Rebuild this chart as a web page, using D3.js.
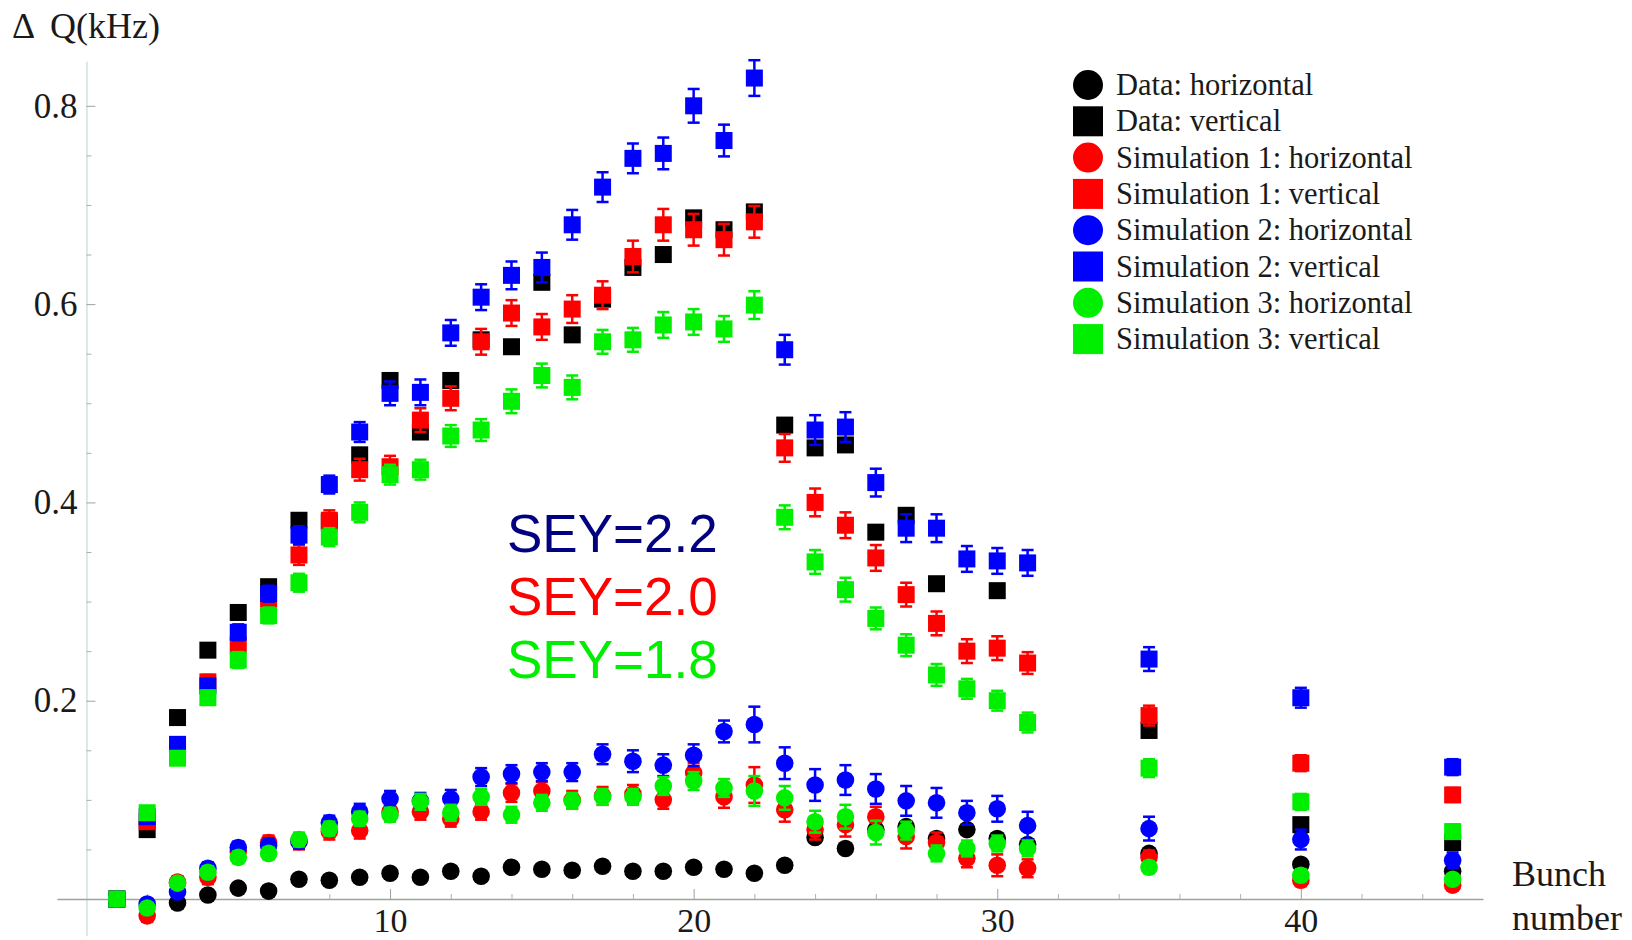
<!DOCTYPE html>
<html>
<head>
<meta charset="utf-8">
<script src="https://cdn.jsdelivr.net/npm/d3@7"></script>
<style>
  html, body { margin: 0; padding: 0; background: #fff; }
  svg { display: block; }
  .serif { font-family: "Liberation Serif", "Times New Roman", serif; fill: #1a1a1a; }
  .sans { font-family: "Liberation Sans", Arial, sans-serif; }
</style>
</head>
<body>
<div id="chart"></div>
<script>
// Bunch numbers on the x axis
const bunches = [1, 2, 3, 4, 5, 6, 7, 8, 9, 10, 11, 12, 13, 14, 15, 16, 17, 18, 19, 20,
  21, 22, 23, 24, 25, 26, 27, 28, 29, 30, 31, 35, 40, 45]

// Tune shift (kHz), one value per bunch, null where no point is visible
const dataHorizontal = [0, null, -0.004, 0.004, 0.011, 0.008, 0.020, 0.019, 0.022, 0.026,
  0.022, 0.028, 0.023, 0.032, 0.030, 0.029, 0.033, 0.028, 0.028, 0.032,
  0.030, 0.026, 0.034, 0.062, 0.051, 0.070, 0.073, 0.061, 0.070, 0.061, 0.055, 0.046, 0.035, 0.028]
const dataVertical = [0, 0.070, 0.183, 0.251, 0.289, 0.315, 0.382, 0.380, 0.448, 0.523,
  0.471, 0.523, 0.564, 0.557, 0.622, 0.569, 0.605, 0.637, 0.650, 0.687,
  0.675, 0.693, 0.478, 0.455, 0.458, 0.370, 0.387, 0.318, null, 0.311, null, 0.170, 0.075, 0.057]

const sim1Horizontal = [0, -0.017, 0.017, 0.022, 0.048, 0.057, 0.058, 0.068, 0.069, 0.088,
  0.088, 0.081, 0.088, 0.107, 0.109, 0.100, 0.104, 0.106, 0.100, 0.127,
  0.103, 0.115, 0.090, 0.070, 0.075, 0.083, 0.063, 0.057, 0.041, 0.034, 0.031, 0.042, 0.019, 0.014]
const sim1Vertical = [0, 0.078, 0.150, 0.219, 0.256, 0.298, 0.347, 0.382, 0.433, 0.436,
  0.483, 0.505, 0.562, 0.591, 0.577, 0.595, 0.609, 0.648, 0.680, 0.675,
  0.665, 0.683, 0.455, 0.400, 0.377, 0.344, 0.307, 0.278, 0.250, 0.253, 0.238, 0.185, 0.137, 0.105]

const sim2Horizontal = [0, -0.005, 0.007, 0.031, 0.052, 0.054, 0.058, 0.077, 0.088, 0.101,
  0.099, 0.101, 0.123, 0.126, 0.128, 0.128, 0.146, 0.139, 0.135, 0.145,
  0.169, 0.176, 0.137, 0.115, 0.120, 0.111, 0.099, 0.097, 0.087, 0.091, 0.074, 0.071, 0.060, 0.039]
const sim2Vertical = [0, 0.083, 0.156, 0.215, 0.269, 0.308, 0.367, 0.418, 0.471, 0.510,
  0.511, 0.571, 0.607, 0.629, 0.637, 0.680, 0.718, 0.747, 0.752, 0.800,
  0.765, 0.828, 0.554, 0.473, 0.476, 0.420, 0.374, 0.374, 0.343, 0.341, 0.339, 0.242, 0.203, 0.133]

const sim3Horizontal = [0, -0.009, 0.016, 0.027, 0.042, 0.046, 0.060, 0.071, 0.081, 0.085,
  0.098, 0.087, 0.103, 0.085, 0.097, 0.099, 0.103, 0.103, 0.114, 0.119,
  0.112, 0.109, 0.102, 0.078, 0.083, 0.067, 0.069, 0.046, 0.051, 0.056, 0.051, 0.032, 0.024, 0.020]
const sim3Vertical = [0, 0.087, 0.142, 0.203, 0.241, 0.286, 0.319, 0.365, 0.390, 0.428,
  0.433, 0.467, 0.473, 0.502, 0.528, 0.516, 0.562, 0.564, 0.579, 0.582,
  0.575, 0.599, 0.385, 0.340, 0.312, 0.283, 0.256, 0.226, 0.212, 0.200, 0.178, 0.132, 0.098, 0.068]

// Error bar half-widths (kHz) for the simulations
const sim1HorizontalErr = [0, 0.006, 0.006, 0.007, 0.007, 0.007, 0.008, 0.008, 0.008, 0.008,
  0.008, 0.008, 0.008, 0.009, 0.009, 0.009, 0.009, 0.009, 0.009, 0.010,
  0.011, 0.018, 0.012, 0.010, 0.012, 0.010, 0.012, 0.010, 0.009, 0.011, 0.009, 0.007, 0.006, 0.005]
const sim1VerticalErr = [0, 0.005, 0.006, 0.007, 0.008, 0.009, 0.010, 0.010, 0.011, 0.011,
  0.012, 0.012, 0.013, 0.013, 0.013, 0.014, 0.014, 0.016, 0.016, 0.016,
  0.016, 0.016, 0.014, 0.014, 0.013, 0.013, 0.012, 0.012, 0.012, 0.012, 0.011, 0.010, 0.008, 0.007]
const sim2HorizontalErr = [0, 0.005, 0.005, 0.006, 0.006, 0.007, 0.007, 0.007, 0.008, 0.008,
  0.008, 0.009, 0.009, 0.009, 0.009, 0.009, 0.010, 0.011, 0.011, 0.011,
  0.011, 0.018, 0.016, 0.016, 0.015, 0.015, 0.015, 0.015, 0.012, 0.013, 0.014, 0.012, 0.010, 0.008]
const sim2VerticalErr = [0, 0.006, 0.006, 0.007, 0.008, 0.008, 0.009, 0.009, 0.010, 0.012,
  0.013, 0.013, 0.013, 0.014, 0.015, 0.015, 0.015, 0.015, 0.016, 0.017,
  0.016, 0.018, 0.015, 0.015, 0.015, 0.014, 0.014, 0.014, 0.013, 0.013, 0.013, 0.012, 0.010, 0.008]
const sim3HorizontalErr = [0, 0.005, 0.005, 0.006, 0.006, 0.006, 0.007, 0.007, 0.007, 0.007,
  0.008, 0.008, 0.008, 0.008, 0.008, 0.008, 0.008, 0.008, 0.009, 0.009,
  0.009, 0.015, 0.012, 0.011, 0.012, 0.012, 0.009, 0.008, 0.008, 0.008, 0.008, 0.006, 0.006, 0.005]
const sim3VerticalErr = [0, 0.005, 0.006, 0.007, 0.008, 0.008, 0.009, 0.009, 0.010, 0.010,
  0.010, 0.011, 0.011, 0.012, 0.012, 0.012, 0.012, 0.012, 0.013, 0.013,
  0.013, 0.014, 0.012, 0.012, 0.012, 0.011, 0.011, 0.011, 0.010, 0.010, 0.010, 0.009, 0.008, 0.007]

const yMajorTicks = [0.2, 0.4, 0.6, 0.8]
const yMinorTicks = [0.05, 0.1, 0.15, 0.25, 0.3, 0.35, 0.45, 0.5, 0.55, 0.65, 0.7, 0.75]
const xMajorTicks = [10, 20, 30, 40]
const xMinorTicks = [2, 4, 6, 8, 12, 14, 16, 18, 22, 24, 26, 28, 32, 34, 36, 38, 42, 44]

const seyLabels = ["SEY=2.2", "SEY=2.0", "SEY=1.8"]
const seyColors = ["#000080", "#ff0000", "#00ee00"]

const series = [
  { name: "Data: horizontal", values: dataHorizontal, err: null, color: "#000000", shape: "circle" },
  { name: "Data: vertical", values: dataVertical, err: null, color: "#000000", shape: "square" },
  { name: "Simulation 1: horizontal", values: sim1Horizontal, err: sim1HorizontalErr, color: "#ff0000", shape: "circle" },
  { name: "Simulation 1: vertical", values: sim1Vertical, err: sim1VerticalErr, color: "#ff0000", shape: "square" },
  { name: "Simulation 2: horizontal", values: sim2Horizontal, err: sim2HorizontalErr, color: "#0000ff", shape: "circle" },
  { name: "Simulation 2: vertical", values: sim2Vertical, err: sim2VerticalErr, color: "#0000ff", shape: "square" },
  { name: "Simulation 3: horizontal", values: sim3Horizontal, err: sim3HorizontalErr, color: "#00ee00", shape: "circle" },
  { name: "Simulation 3: vertical", values: sim3Vertical, err: sim3VerticalErr, color: "#00ee00", shape: "square" },
]

const width = 1632
const height = 940
const markerSize = 17
const capHalf = 6

const x = d3.scaleLinear().domain([-0.97, 46]).range([57, 1483])
const y = d3.scaleLinear().domain([-0.037, 0.845]).range([935.7, 61.2])

const svg = d3.select("#chart")
  .append("svg")
  .attr("width", width)
  .attr("height", height)
  .attr("viewBox", [0, 0, width, height])

// Axes
const yAxis = svg.append("g")
  .attr("transform", `translate(${x(0)},0)`)
  .call(d3.axisLeft(y).tickValues(yMajorTicks).tickSize(-9).tickSizeOuter(0).tickPadding(9)
    .tickFormat(d3.format(".1f")))
yAxis.select(".domain").attr("stroke", "#c9d9cf").attr("stroke-width", 1.2)
yAxis.selectAll(".tick line").attr("stroke", "#9aa59c")
yAxis.selectAll(".tick text").attr("class", "serif").attr("font-size", 35)

svg.append("g")
  .attr("transform", `translate(${x(0)},0)`)
  .call(d3.axisLeft(y).tickValues(yMinorTicks).tickSize(-5).tickFormat(""))
  .call(g => g.select(".domain").remove())
  .selectAll(".tick line").attr("stroke", "#a9b3ab")

const xAxis = svg.append("g")
  .attr("transform", `translate(0,${y(0)})`)
  .call(d3.axisBottom(x).tickValues(xMajorTicks).tickSize(-10).tickSizeOuter(0).tickPadding(9)
    .tickFormat(d3.format("d")))
xAxis.select(".domain").attr("stroke", "#9aa59c").attr("stroke-width", 1.3)
xAxis.selectAll(".tick line").attr("stroke", "#9aa59c")
xAxis.selectAll(".tick text").attr("class", "serif").attr("font-size", 34)

svg.append("g")
  .attr("transform", `translate(0,${y(0)})`)
  .call(d3.axisBottom(x).tickValues(xMinorTicks).tickSize(-5).tickFormat(""))
  .call(g => g.select(".domain").remove())
  .selectAll(".tick line").attr("stroke", "#a9b3ab")

// Axis titles
const yTitle = svg.append("text").attr("class", "serif").attr("y", 38).attr("font-size", 36)
yTitle.append("tspan").attr("x", 12).text("Δ")
yTitle.append("tspan").attr("x", 50).text("Q(kHz)")
svg.append("text").attr("class", "serif").attr("x", 1512).attr("y", 886)
  .attr("font-size", 36).text("Bunch")
svg.append("text").attr("class", "serif").attr("x", 1512).attr("y", 930)
  .attr("font-size", 36).text("number")

// Points with error bars
series.forEach(s => {
  const pts = bunches.map((b, i) => ({ b, v: s.values[i], e: s.err ? s.err[i] : 0 }))
    .filter(d => d.v !== null)
  const g = svg.append("g").attr("fill", s.color).attr("stroke", s.color)

  const bars = pts.filter(d => d.e > 0)
  g.selectAll("line.bar").data(bars).join("line")
    .attr("class", "bar")
    .attr("x1", d => x(d.b)).attr("x2", d => x(d.b))
    .attr("y1", d => y(d.v - d.e)).attr("y2", d => y(d.v + d.e))
    .attr("stroke-width", 2.5)
  g.selectAll("line.capTop").data(bars).join("line")
    .attr("class", "capTop")
    .attr("x1", d => x(d.b) - capHalf).attr("x2", d => x(d.b) + capHalf)
    .attr("y1", d => y(d.v + d.e)).attr("y2", d => y(d.v + d.e))
    .attr("stroke-width", 2.5)
  g.selectAll("line.capBottom").data(bars).join("line")
    .attr("class", "capBottom")
    .attr("x1", d => x(d.b) - capHalf).attr("x2", d => x(d.b) + capHalf)
    .attr("y1", d => y(d.v - d.e)).attr("y2", d => y(d.v - d.e))
    .attr("stroke-width", 2.5)

  if (s.shape === "circle") {
    g.selectAll("circle").data(pts).join("circle")
      .attr("cx", d => x(d.b)).attr("cy", d => y(d.v))
      .attr("r", markerSize / 2 + 0.3).attr("stroke", "none")
  } else {
    g.selectAll("rect").data(pts).join("rect")
      .attr("x", d => x(d.b) - markerSize / 2).attr("y", d => y(d.v) - markerSize / 2)
      .attr("width", markerSize).attr("height", markerSize).attr("stroke", "none")
  }
})

// Legend
const legend = svg.append("g").attr("transform", "translate(1088,85)")
const rows = legend.selectAll("g").data(series).join("g")
  .attr("transform", (d, i) => `translate(0,${i * 36.3})`)
rows.filter(d => d.shape === "circle").append("circle")
  .attr("r", 15).attr("fill", d => d.color)
rows.filter(d => d.shape === "square").append("rect")
  .attr("x", -15).attr("y", -15).attr("width", 30).attr("height", 30).attr("fill", d => d.color)
rows.append("text").attr("class", "serif")
  .attr("x", 28).attr("y", 10).attr("font-size", 30.5)
  .text(d => d.name)

// SEY annotations
svg.append("g").selectAll("text").data(seyLabels).join("text")
  .attr("class", "sans")
  .attr("x", 507).attr("y", (d, i) => 552 + i * 63)
  .attr("font-size", 53)
  .attr("fill", (d, i) => seyColors[i])
  .text(d => d)
</script>
</body>
</html>
